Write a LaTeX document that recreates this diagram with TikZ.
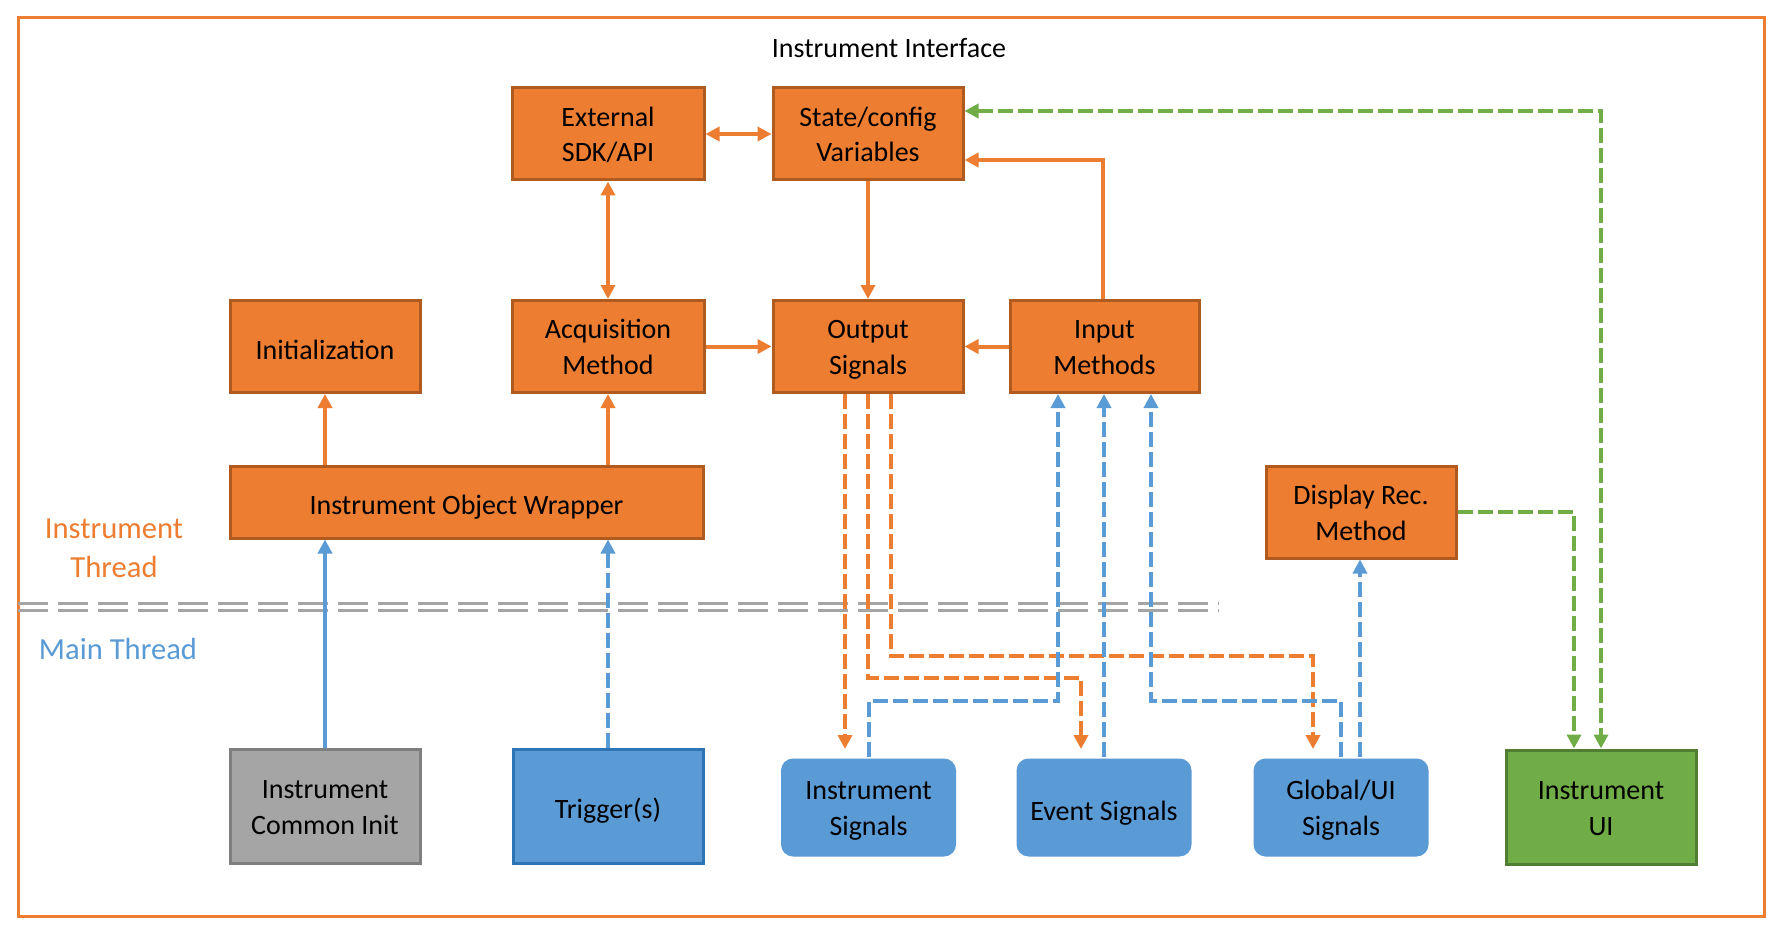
\documentclass[tikz,border=0pt]{standalone}
\usepackage{fontspec}
\setmainfont{Carlito}
\usetikzlibrary{arrows.meta,backgrounds,calc}
\definecolor{orF}{HTML}{ED7D31}
\definecolor{orD}{HTML}{AE5A21}
\definecolor{blF}{HTML}{5B9BD5}
\definecolor{blD}{HTML}{2E75B6}
\definecolor{grF}{HTML}{A5A5A5}
\definecolor{grD}{HTML}{7F7F7F}
\definecolor{gnF}{HTML}{70AD47}
\definecolor{gnD}{HTML}{507E32}
\begin{document}
\begin{tikzpicture}[x=0.5pt,y=-0.5pt,
  box/.style={draw, line width=1.5pt, minimum width=95pt, minimum height=46pt, inner sep=0pt, align=center, font=\fontsize{14pt}{17.8pt}\selectfont, text=black, text height=28pt, text depth=0pt},
  oneline/.style={text height=12.6pt, text depth=0pt},
  obox/.style={box, fill=orF, draw=orD},
  gbox/.style={box, fill=grF, draw=grD, minimum height=57pt},
  tbox/.style={box, fill=blF, draw=blD, minimum height=57pt},
  uibox/.style={box, fill=gnF, draw=gnD, minimum height=57pt},
  sbox/.style={box, draw=none, fill=blF, rounded corners=6pt, minimum width=87.5pt, minimum height=49pt},
  tip/.style={-{Triangle[length=7pt,width=7pt]}},
  tips/.style={{Triangle[length=7pt,width=7pt]}-{Triangle[length=7pt,width=7pt]}},
  osolid/.style={draw=orF, line width=2pt},
  bsolid/.style={draw=blF, line width=2pt},
  odash/.style={osolid, dash pattern=on 7.5pt off 2.5pt},
  bdash/.style={bsolid, dash pattern=on 7.5pt off 2.5pt},
  gdash/.style={draw=gnF, line width=2pt, dash pattern=on 7.5pt off 2.5pt},
  sepline/.style={draw=grF, line width=1.5pt, dash pattern=on 15pt off 5pt},
  lbl/.style={font=\fontsize{14pt}{17.8pt}\selectfont, inner sep=0pt, align=center}
]
\useasboundingbox (0,0) rectangle (1782,936);
\fill[white] (0,0) rectangle (1782,936);
% frame
\draw[orF, line width=1.5pt] (18,18) rectangle (1764,916);
% thread separator
\coordinate (sepA1) at (18,603);
\coordinate (sepB1) at (1219,603);
\coordinate (sepA2) at (18,610);
\coordinate (sepB2) at (1219,610);
\draw[sepline] (sepA1) -- (sepB1);
\draw[sepline] (sepA2) -- (sepB2);
% labels
\node[lbl] (title) at (889,48) {Instrument Interface};
\node[lbl, text=orF, font=\fontsize{15.3pt}{19.5pt}\selectfont] (ithr) at (114,548) {Instrument\\Thread};
\node[lbl, text=blF, font=\fontsize{15.3pt}{19.5pt}\selectfont] (mthr) at (118,649) {Main Thread};
% boxes
\node[obox, minimum width=96pt] (ext) at (608,134) {External\\SDK/API};
\node[obox] (state) at (868,134) {State/config\\Variables};
\node[obox, minimum width=96pt] (acq) at (608,346.5) {Acquisition\\Method};
\node[obox] (out) at (868,346.5) {Output\\Signals};
\node[obox, minimum width=94.5pt] (inp) at (1104.5,346.5) {Input\\Methods};
\node[obox, oneline] (init) at (325,346.5) {Initialization};
\node[obox, oneline, minimum width=236.5pt, minimum height=36pt] (wrap) at (466.5,502) {Instrument Object Wrapper};
\node[obox] (disp) at (1361,512) {Display Rec.\\Method};
\node[gbox] (common) at (325,806) {Instrument\\Common Init};
\node[tbox, oneline] (trig) at (608,806) {Trigger(s)};
\node[uibox] (ui) at (1601,807) {Instrument\\UI};
\node[sbox] (isig) at (868.5,807.5) {Instrument\\Signals};
\node[sbox, oneline] (esig) at (1104,807.5) {Event Signals};
\node[sbox] (gsig) at (1341,807.5) {Global/UI\\Signals};
\begin{pgfonlayer}{background}
\foreach \n in {isig,esig,gsig}{
  \foreach \d/\o in {4/0.08,3/0.14,2/0.25,1/0.45}{
    \fill[blF, opacity=\o, rounded corners=7pt] ([shift={(-\d pt,\d pt)}]\n.north west) rectangle ([shift={(\d pt,-\d pt)}]\n.south east);
  }
}
\end{pgfonlayer}
% solid orange connectors
\draw[osolid,tip] (wrap.north -| init.south) -- (init.south);
\draw[osolid,tip] (wrap.north -| acq.south) -- (acq.south);
\draw[osolid,tips] (acq.north) -- (ext.south);
\draw[osolid,tips] (ext.east) -- (state.west);
\draw[osolid,tip] (state.south) -- (out.north);
\draw[osolid,tip] (acq.east) -- (out.west);
\draw[osolid,tip] (inp.west) -- (out.east);
\draw[osolid,tip] ([xshift=-1pt]inp.north) |- ([yshift=-13pt]state.east);
% blue into wrapper
\draw[bsolid,tip] (common.north) -- (common.north |- wrap.south);
\draw[bdash,tip] (trig.north) -- (trig.north |- wrap.south);
% orange dashed outputs
\draw[odash,tip] ([xshift=-11.5pt]out.south) -- ([xshift=-11.5pt,yshift=4pt]out.south |- isig.north);
\draw[odash,tip] (out.south) -- ++(0,284) -| ([xshift=-11.5pt,yshift=4pt]esig.north);
\draw[odash,tip] ([xshift=11.5pt]out.south) -- ++(0,262) -| ([xshift=-14pt,yshift=4pt]gsig.north);
% blue dashed inputs
\draw[bdash,tip] (isig.north) -- ++(0,-56) -| ([xshift=-23.25pt]inp.south);
\draw[bdash,tip] (esig.north) -- (esig.north |- inp.south);
\draw[bdash,tip] (gsig.north) -- ++(0,-56) -| ([xshift=23.25pt]inp.south);
\draw[bdash,tip] ([xshift=-0.5pt]disp.south |- gsig.north) -- ([xshift=-0.5pt]disp.south);
% green dashed
\draw[gdash,tips] ([yshift=11.5pt]state.east) -| (ui.north);
\draw[gdash,tip] (disp.east) -| ([xshift=-13.5pt]ui.north);
\end{tikzpicture}
\end{document}
